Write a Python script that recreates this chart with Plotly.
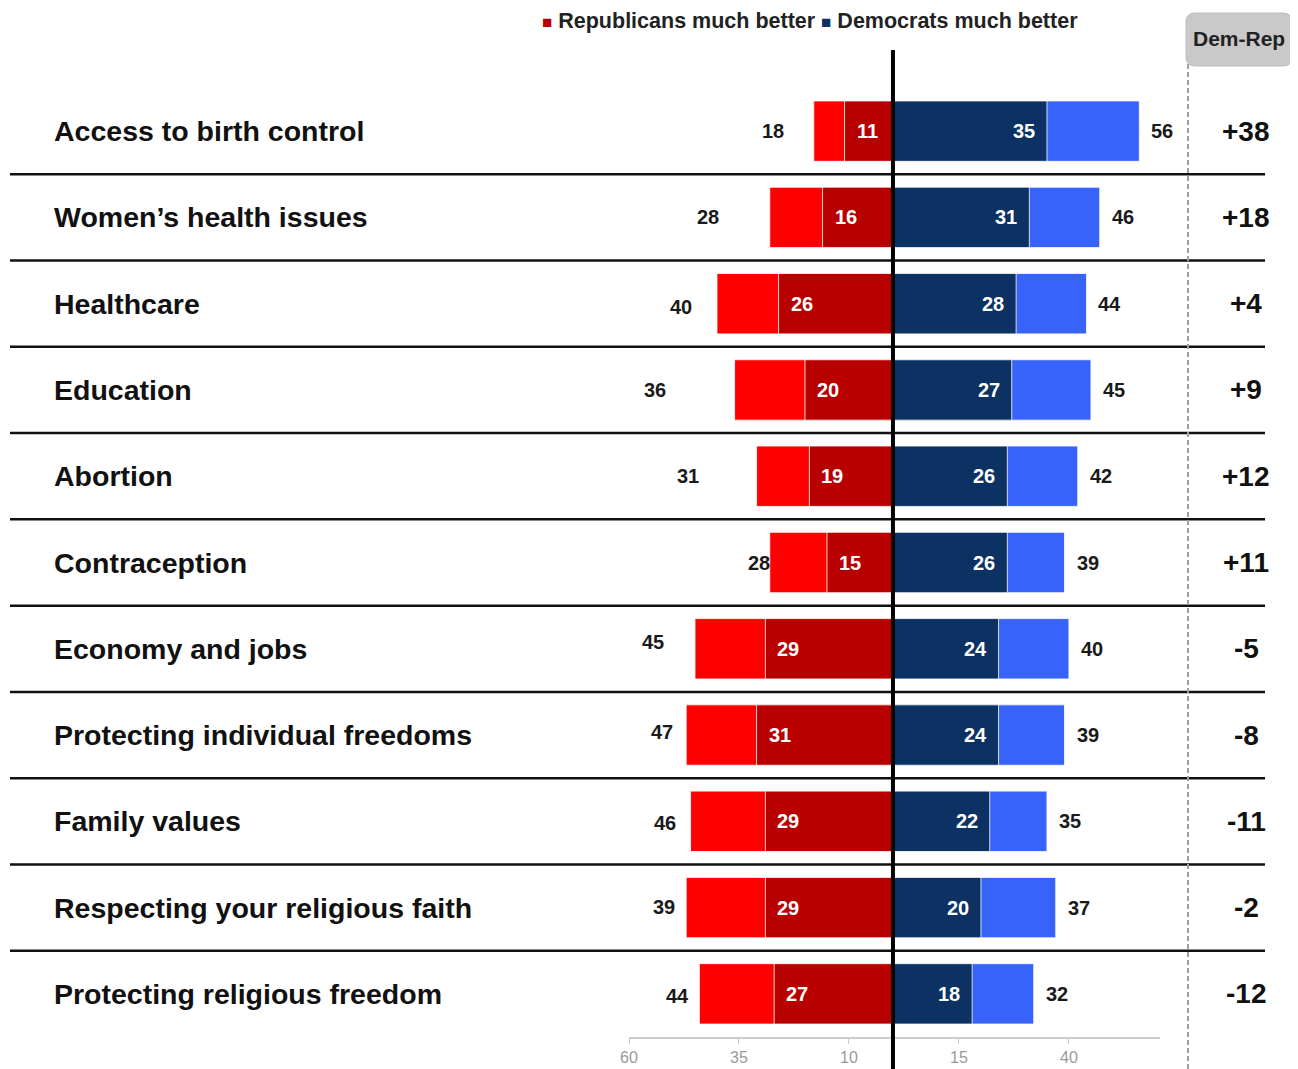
import plotly.graph_objects as go

# ---------------- data ----------------
categories = [
    "Access to birth control",
    "Women\u2019s health issues",
    "Healthcare",
    "Education",
    "Abortion",
    "Contraception",
    "Economy and jobs",
    "Protecting individual freedoms",
    "Family values",
    "Respecting your religious faith",
    "Protecting religious freedom",
]
rep_much = [11, 16, 26, 20, 19, 15, 29, 31, 29, 29, 27]
rep_total = [18, 28, 40, 36, 31, 28, 45, 47, 46, 47, 44]          # bar lengths as drawn
rep_total_label = ["18", "28", "40", "36", "31", "28", "45", "47", "46", "39", "44"]
dem_much = [35, 31, 28, 27, 26, 26, 24, 24, 22, 20, 18]
dem_total = [56, 47, 44, 45, 42, 39, 40, 39, 35, 37, 32]
dem_total_label = ["56", "46", "44", "45", "42", "39", "40", "39", "35", "37", "32"]
dem_rep = ["+38", "+18", "+4", "+9", "+12", "+11", "-5", "-8", "-11", "-2", "-12"]

tick_vals = [-60, -35, -10, 15, 40]
tick_text = ["60", "35", "10", "15", "40"]

# ---------------- style ----------------
OFF = 8                      # page body margin of the html page
W, H = 1298 - OFF, 1069 - OFF
ML, MR, MT, MB = 629 - OFF, 1298 - 1160, 88 - OFF, 1069 - 1037
XMIN, XMAX = -60, 60.7
C_RED_D, C_RED_L = "#B80000", "#FF0000"
C_BLUE_D, C_BLUE_L = "#0C3163", "#3863FA"
FONT = "Liberation Sans, Arial, sans-serif"
# pixel nudges for the left total labels (as placed in the original)
rep_label_dx = [-41, -62, -36, -80, -69, -11, -42, -24, -26, -22, -22]
rep_label_dy = [0, 0, -3, 0, 0, 0, 7, 3, -2, 1, -2]

PW, PH = W - ML - MR, H - MT - MB


def px_x(px):   # page pixel -> paper x
    return (px - OFF - ML) / PW


def px_y(py):   # page pixel -> paper y
    return (H - MB - (py - OFF)) / PH


fig = go.Figure()
neg = lambda a: [-v for v in a]
bar_line = dict(color="rgba(255,255,255,0.8)", width=1)

fig.add_trace(go.Bar(y=categories, x=neg(rep_total), orientation="h", marker=dict(color=C_RED_L, line=bar_line), width=0.7, hoverinfo="skip"))
fig.add_trace(go.Bar(y=categories, x=neg(rep_much), orientation="h", marker=dict(color=C_RED_D, line=bar_line), width=0.7, hoverinfo="skip"))
fig.add_trace(go.Bar(y=categories, x=dem_total, orientation="h", marker=dict(color=C_BLUE_L, line=bar_line), width=0.7, hoverinfo="skip"))
fig.add_trace(go.Bar(y=categories, x=dem_much, orientation="h", marker=dict(color=C_BLUE_D, line=bar_line), width=0.7, hoverinfo="skip"))

ann = []
for i, c in enumerate(categories):
    # row label
    ann.append(dict(x=px_x(52), y=c, xref="paper", yref="y", text=f"<b>{c}</b>", showarrow=False,
                    xanchor="left", yanchor="middle", font=dict(family=FONT, size=28.5, color="#111")))
    # inner numbers
    ann.append(dict(x=-rep_much[i], y=c, xref="x", yref="y", text=f"<b>{rep_much[i]}</b>", showarrow=False,
                    xanchor="center", yanchor="middle", xshift=23, font=dict(family=FONT, size=20, color="white")))
    ann.append(dict(x=dem_much[i], y=c, xref="x", yref="y", text=f"<b>{dem_much[i]}</b>", showarrow=False,
                    xanchor="center", yanchor="middle", xshift=-23, font=dict(family=FONT, size=20, color="white")))
    # totals
    ann.append(dict(x=-rep_total[i], y=c, xref="x", yref="y", text=f"<b>{rep_total_label[i]}</b>", showarrow=False,
                    xanchor="center", yanchor="middle", xshift=rep_label_dx[i], yshift=rep_label_dy[i],
                    font=dict(family=FONT, size=20, color="#1a1a1a")))
    ann.append(dict(x=dem_total[i], y=c, xref="x", yref="y", text=f"<b>{dem_total_label[i]}</b>", showarrow=False,
                    xanchor="center", yanchor="middle", xshift=23, font=dict(family=FONT, size=20, color="#1a1a1a")))
    # Dem-Rep
    ann.append(dict(x=px_x(1246), y=c, xref="paper", yref="y", text=f"<b>{dem_rep[i]}</b>", showarrow=False,
                    xanchor="center", yanchor="middle", font=dict(family=FONT, size=28, color="#111")))

# legend
ann.append(dict(x=px_x(810), y=px_y(21), xref="paper", yref="paper", showarrow=False,
                xanchor="center", yanchor="middle", borderpad=0,
                text=(f'<span style="color:{C_RED_D};font-size:17px">\u25A0</span><b> Republicans much better </b>'
                      f'<span style="color:{C_BLUE_D};font-size:17px">\u25A0</span><b> Democrats much better</b>'),
                font=dict(family=FONT, size=21.5, color="#222")))
# header
ann.append(dict(x=px_x(1239), y=px_y(39), xref="paper", yref="paper", showarrow=False,
                xanchor="center", yanchor="middle",
                text="<b>Dem-Rep</b>", font=dict(family=FONT, size=21, color="#222")))

shapes = []
# separators between rows
n = len(categories)
for i in range(n - 1):
    yb = 1 - (i + 1) / n
    shapes.append(dict(type="line", xref="paper", yref="paper", x0=px_x(10), x1=px_x(1265), y0=yb, y1=yb,
                       line=dict(color="#111", width=2.5)))
# center line
x0p = (0 - XMIN) / (XMAX - XMIN)
shapes.append(dict(type="line", xref="paper", yref="paper", x0=x0p, x1=x0p, y0=px_y(1069), y1=px_y(50),
                   line=dict(color="black", width=4)))
# dashed divider
shapes.append(dict(type="line", xref="paper", yref="paper", x0=px_x(1188), x1=px_x(1188), y0=px_y(1069), y1=px_y(62),
                   line=dict(color="#A0A0A0", width=2, dash="5px,3px")))
# rounded header box
bx0, bx1, by0, by1 = px_x(1186), px_x(1292), px_y(66), px_y(13)
rx, ry = 9 / PW, 9 / PH
path = (f"M {bx0+rx},{by0} L {bx1-rx},{by0} Q {bx1},{by0} {bx1},{by0+ry} L {bx1},{by1-ry} "
        f"Q {bx1},{by1} {bx1-rx},{by1} L {bx0+rx},{by1} Q {bx0},{by1} {bx0},{by1-ry} "
        f"L {bx0},{by0+ry} Q {bx0},{by0} {bx0+rx},{by0} Z")
shapes.append(dict(type="path", xref="paper", yref="paper", path=path, fillcolor="#C9C9C9",
                   line=dict(color="#BDBDBD", width=1), layer="below"))

fig.update_layout(
    width=W, height=H, barmode="overlay", showlegend=False,
    margin=dict(l=ML, r=MR, t=MT, b=MB, autoexpand=False),
    plot_bgcolor="white", paper_bgcolor="white",
    annotations=ann, shapes=shapes,
    xaxis=dict(range=[XMIN, XMAX], tickvals=tick_vals, ticktext=tick_text, showgrid=False, zeroline=False,
               automargin=False,
               showline=True, linecolor="#CCCCCC", linewidth=1.5, ticks="outside", ticklen=5, tickcolor="#CCCCCC",
               ticklabelstandoff=0, tickfont=dict(family=FONT, size=16, color="#9A9A9A")),
    yaxis=dict(categoryorder="array", categoryarray=categories, autorange=False, showticklabels=False,
               automargin=False,
               showgrid=False, zeroline=False, range=[n - 0.5, -0.5]),
)

fig.write_html("out.html")
